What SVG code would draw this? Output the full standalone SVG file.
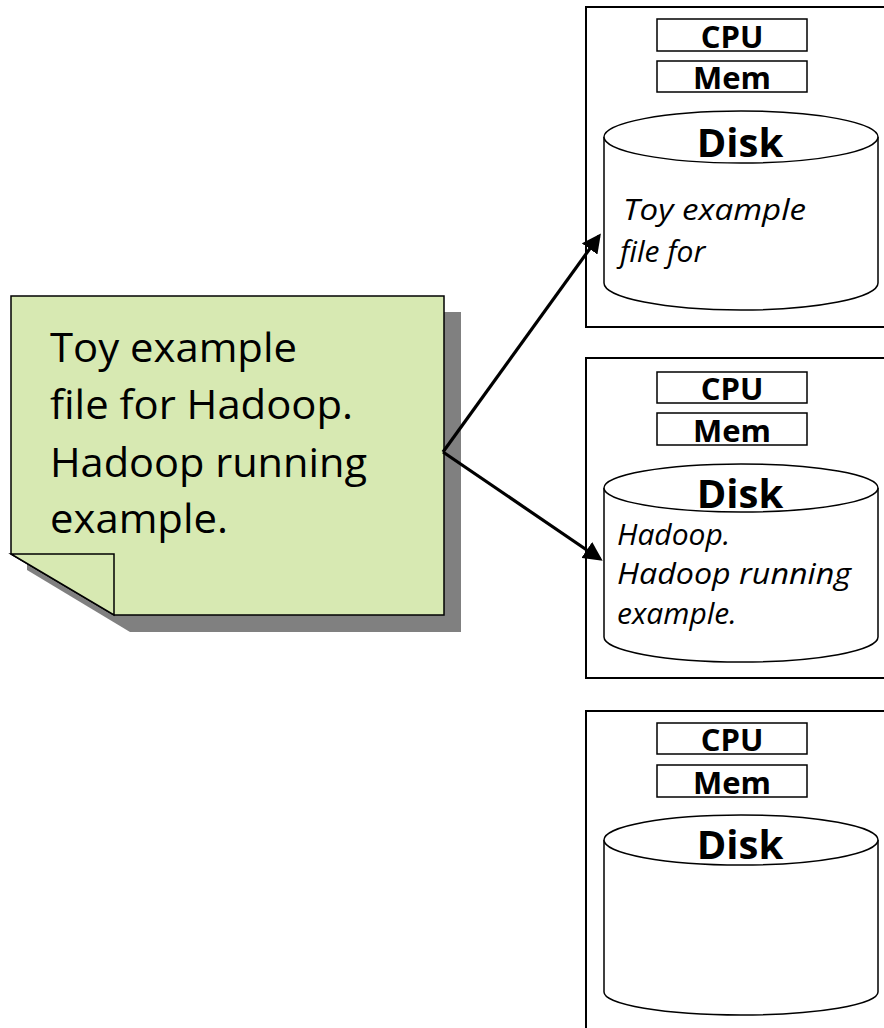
<svg xmlns="http://www.w3.org/2000/svg" width="884" height="1028" viewBox="0 0 884 1028">
<style>
.srv{fill:#fff;stroke:#000;stroke-width:2}
.comp{fill:#fff;stroke:#000;stroke-width:1.5}
.cyl{fill:#fff;stroke:#000;stroke-width:1.5}
.lbl{font-family:"Open Sans",sans-serif;font-weight:bold;font-size:31px;text-anchor:middle;fill:#000}
.disk{font-family:"Open Sans",sans-serif;font-weight:bold;font-size:40px;text-anchor:middle;fill:#000}
.it{font-family:"Open Sans",sans-serif;font-style:italic;font-size:30px;fill:#000}
.note{font-family:"Open Sans",sans-serif;font-size:41px;fill:#000}
.conn{stroke:#000;stroke-width:3.2;fill:none}
</style>
<defs>
<marker id="ah" markerWidth="6" markerHeight="6" refX="5" refY="3" orient="auto" markerUnits="strokeWidth">
<path d="M0,0 L6,3 L0,6 z" fill="#000"/>
</marker>
</defs>
<g id="note">
<path d="M27,312 L461,312 L461,632 L130,632 L27,570 z" fill="#808080"/>
<path d="M11,296 L444,296 L444,615 L114,615 L11,554 z" fill="#d7e9b2" stroke="#000" stroke-width="1.5"/>
<path d="M11,554 L114,554 L114,615 z" fill="#d7e9b2" stroke="#000" stroke-width="1.5"/>
<text class="note" x="50" y="362" textLength="247" lengthAdjust="spacingAndGlyphs">Toy example</text>
<text class="note" x="50" y="419" textLength="303" lengthAdjust="spacingAndGlyphs">file for Hadoop.</text>
<text class="note" x="50" y="477" textLength="317" lengthAdjust="spacingAndGlyphs">Hadoop running</text>
<text class="note" x="50" y="533" textLength="178" lengthAdjust="spacingAndGlyphs">example.</text>
</g>
<g id="server1">
<rect class="srv" x="586" y="7" width="310" height="320"/>
<rect class="comp" x="657" y="19" width="150" height="32"/>
<text class="lbl" x="732" y="48">CPU</text>
<rect class="comp" x="657" y="61" width="150" height="31"/>
<text class="lbl" x="732" y="89">Mem</text>
<path class="cyl" d="M604,137 L604,283 A137,27 0 0 0 878,283 L878,137"/>
<ellipse class="cyl" cx="741" cy="137" rx="137" ry="26"/>
<text class="disk" x="740" y="157">Disk</text>
<text class="it" x="623" y="220" textLength="183" lengthAdjust="spacingAndGlyphs">Toy example</text>
<text class="it" x="620" y="262">file for</text>
</g>
<g id="server2">
<rect class="srv" x="586" y="358" width="310" height="320"/>
<rect class="comp" x="657" y="372" width="150" height="31"/>
<text class="lbl" x="732" y="400">CPU</text>
<rect class="comp" x="657" y="413" width="150" height="32"/>
<text class="lbl" x="732" y="442">Mem</text>
<path class="cyl" d="M604,488 L604,637 A137,25 0 0 0 878,637 L878,488"/>
<ellipse class="cyl" cx="741" cy="488" rx="137" ry="24"/>
<text class="disk" x="740" y="508">Disk</text>
<text class="it" x="617" y="545">Hadoop.</text>
<text class="it" x="617" y="584" textLength="234" lengthAdjust="spacingAndGlyphs">Hadoop running</text>
<text class="it" x="617" y="624">example.</text>
</g>
<g id="server3">
<rect class="srv" x="586" y="711" width="310" height="330"/>
<rect class="comp" x="657" y="723" width="150" height="31"/>
<text class="lbl" x="732" y="751">CPU</text>
<rect class="comp" x="657" y="765" width="150" height="32"/>
<text class="lbl" x="732" y="794">Mem</text>
<path class="cyl" d="M604,840 L604,992 A137,23 0 0 0 878,992 L878,840"/>
<ellipse class="cyl" cx="741" cy="840" rx="137" ry="25"/>
<text class="disk" x="740" y="859">Disk</text>
</g>
<g id="connectors">
<line class="conn" x1="443" y1="452" x2="599" y2="236" marker-end="url(#ah)"/>
<line class="conn" x1="443" y1="452" x2="600" y2="559" marker-end="url(#ah)"/>
</g>
</svg>
